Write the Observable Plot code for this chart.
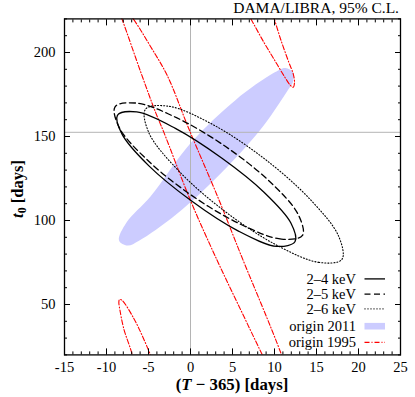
<!DOCTYPE html>
<html>
<head>
<meta charset="utf-8">
<script src="https://cdn.jsdelivr.net/npm/d3@7"></script>
<script src="https://cdn.jsdelivr.net/npm/@observablehq/plot@0.6"></script>
<style>
  body { margin: 0; background: #fff; }
  #chart svg { display: block; }
</style>
</head>
<body>
<div id="chart"></div>
<script>
// ---------- data ----------
const title = "DAMA/LIBRA, 95% C.L.";
const xDomain = [-15, 25];
const yDomain = [20, 220];
const xMajorTicks = [-15, -10, -5, 0, 5, 10, 15, 20, 25];
const xMinorTicks = [-15,-14,-13,-12,-11,-10,-9,-8,-7,-6,-5,-4,-3,-2,-1,0,1,2,3,4,5,6,7,8,9,10,11,12,13,14,15,16,17,18,19,20,21,22,23,24,25];
const yMajorTicks = [50, 100, 150, 200];
const yMinorTicks = [20, 30, 40, 60, 70, 80, 90, 110, 120, 130, 140, 160, 170, 180, 190, 210, 220];
const refT = 0;       // vertical reference line, T - 365 = 0
const refT0 = 152.5;  // horizontal reference line, t0

const legendLabels = ["2\u20134 keV", "2\u20135 keV", "2\u20136 keV", "origin 2011", "origin 1995"];

// contour outlines, [T-365, t0] in days
const contour24 = [
  [12.45, 87.5], [10.3, 84.6], [5.6, 94.0], [0.05, 111.9], [-4.95, 132.5], [-8.15, 151.4],
  [-8.7, 162.6], [-6.4, 164.6], [-1.8, 154.8], [3.75, 137.0], [8.75, 116.8], [11.95, 98.5]
];
const contour25 = [
  [13.33, 91.1], [10.83, 88.9], [6.02, 97.6], [0.18, 114.8], [-5.13, 136.0], [-8.48, 155.3],
  [-8.98, 167.7], [-6.48, 169.9], [-1.67, 161.2], [4.18, 144.0], [9.49, 122.9], [12.83, 103.5]
];
const contour26 = [
  [18.02, 76.8], [15.26, 75.1], [10.12, 85.7], [3.95, 106.0], [-1.57, 130.4], [-4.98, 152.5],
  [-5.36, 166.25], [-2.6, 168.0], [2.55, 157.4], [8.71, 137.1], [14.24, 112.6], [17.64, 90.6]
];
const origin2011 = [
  [12.2, 188.2], [12.2, 182.5], [11.7, 178.4], [8.62, 156.0], [3.71, 128.6], [-1.68, 103.75],
  [-6.13, 88.0], [-7.5, 85.1], [-8.51, 88.1], [-7.62, 98.8], [-4.76, 114.3], [0, 146.0],
  [5.38, 171.8], [9.83, 187.6], [11.3, 190.8]
];
const origin1995Main = [
  [-9.52, 238], [-6.75, 219.6], [-4.76, 203.6], [-2.77, 186.3], [-0.2, 154.6], [3.37, 112.5],
  [5.95, 80.2], [10.83, 20.1], [12.62, -7], [13.1, -31], [11.19, -7], [8.54, 20.1],
  [5.95, 47.1], [3.18, 76.2], [0, 111.9], [-3.18, 152.6], [-4.17, 164.5], [-5.95, 188.7],
  [-8.13, 219.6]
];
const origin1995Top = [
  [6.61, 225], [7.23, 219.6], [8.73, 206.1], [9.92, 196.2], [11.11, 186.3], [11.9, 180.4],
  [12.23, 179.3], [12.38, 182.3], [12.23, 187.3], [11.7, 194.2], [10.71, 208.2], [10.0, 219.6],
  [9.64, 225]
];
const origin1995Bottom = [
  [-6.85, 15], [-6.94, 20], [-7.94, 35.5], [-8.39, 46.4], [-8.53, 51.4], [-8.45, 53.0],
  [-8.13, 52.4], [-6.75, 41.7], [-5.75, 31.5], [-4.76, 20], [-4.4, 16]
];

// ---------- tables for the library ----------
const rows = (pts, piece) => pts.map(([x, y]) => ({x, y, piece}));
const redOpen = [...rows(origin1995Top, "top"), ...rows(origin1995Bottom, "bottom")];

const FONT = "Liberation Serif, DejaVu Serif, serif";
const RED = "#ff0000";
const BLUE = "#ccccff";
const GRAY = "#b4b4b4";
const RED_DASH = "5,2,1,2";
const DASH = "6,3.5";
const DOT = "1,2";

const chart = Plot.plot({
  width: 415,
  height: 397,
  marginLeft: 64,
  marginRight: 15,
  marginTop: 18.4,
  marginBottom: 42.6,
  x: {domain: xDomain, label: null},
  y: {domain: yDomain, label: null},
  style: {fontFamily: FONT, fontSize: "14.5px", background: "white", color: "black", overflow: "visible"},
  marks: [
    Plot.line(rows(origin2011), {x: "x", y: "y", curve: "catmull-rom-closed", fill: BLUE, stroke: "none"}),
    Plot.ruleX([refT], {stroke: GRAY, strokeWidth: 1}),
    Plot.ruleY([refT0], {stroke: GRAY, strokeWidth: 1}),
    Plot.line(rows(origin1995Main), {x: "x", y: "y", curve: "catmull-rom-closed", stroke: RED, strokeWidth: 1.1, strokeDasharray: RED_DASH, clip: true}),
    Plot.line(redOpen, {x: "x", y: "y", z: "piece", curve: "catmull-rom", stroke: RED, strokeWidth: 1.1, strokeDasharray: RED_DASH, clip: true}),
    Plot.line(rows(contour24), {x: "x", y: "y", curve: "catmull-rom-closed", stroke: "black", strokeWidth: 1.3}),
    Plot.line(rows(contour25), {x: "x", y: "y", curve: "catmull-rom-closed", stroke: "black", strokeWidth: 1.3, strokeDasharray: DASH}),
    Plot.line(rows(contour26), {x: "x", y: "y", curve: "catmull-rom-closed", stroke: "black", strokeWidth: 1.1, strokeDasharray: DOT}),
    Plot.frame({stroke: "black", strokeWidth: 1.3}),
    // inward ticks on all four sides
    Plot.axisX({anchor: "bottom", ticks: xMajorTicks, tickSize: -6, fill: null, tickFormat: null}),
    Plot.axisX({anchor: "bottom", ticks: xMinorTicks, tickSize: -3, fill: null, tickFormat: null}),
    Plot.axisX({anchor: "top", ticks: xMajorTicks, tickSize: -6, fill: null, tickFormat: null}),
    Plot.axisX({anchor: "top", ticks: xMinorTicks, tickSize: -3, fill: null, tickFormat: null}),
    Plot.axisY({anchor: "left", ticks: yMajorTicks, tickSize: -6, fill: null, tickFormat: null}),
    Plot.axisY({anchor: "left", ticks: yMinorTicks, tickSize: -3, fill: null, tickFormat: null}),
    Plot.axisY({anchor: "right", ticks: yMajorTicks, tickSize: -6, fill: null, tickFormat: null}),
    Plot.axisY({anchor: "right", ticks: yMinorTicks, tickSize: -3, fill: null, tickFormat: null}),
    // tick labels
    Plot.axisX({anchor: "bottom", ticks: xMajorTicks, tickSize: 0, tickPadding: 7, tickFormat: d => String(d), label: null}),
    Plot.axisY({anchor: "left", ticks: yMajorTicks, tickSize: 0, tickPadding: 9, tickFormat: d => String(d), label: null})
  ]
});
document.getElementById("chart").appendChild(chart);

// ---------- titles and legend ----------
const svg = d3.select(chart);
svg.append("text")
  .attr("x", 399).attr("y", 12.5)
  .attr("text-anchor", "end")
  .attr("font-family", FONT).attr("font-size", 15.5)
  .attr("fill", "black")
  .text(title);

const xl = svg.append("text")
  .attr("x", 232).attr("y", 390)
  .attr("text-anchor", "middle")
  .attr("font-family", FONT).attr("font-size", 16.8).attr("font-weight", "bold")
  .attr("fill", "black");
xl.append("tspan").text("(");
xl.append("tspan").attr("font-style", "italic").text("T");
xl.append("tspan").text(" \u2212 365) [days]");

const yl = svg.append("text")
  .attr("transform", "translate(23,189) rotate(-90)")
  .attr("text-anchor", "middle")
  .attr("font-family", FONT).attr("font-size", 16.5).attr("font-weight", "bold")
  .attr("fill", "black");
yl.append("tspan").attr("font-style", "italic").text("t");
yl.append("tspan").attr("font-size", 12).attr("dy", 3).text("0");
yl.append("tspan").attr("dy", -3).text(" [days]");

const legendBaselines = [283.5, 298.7, 313.5, 330.8, 347];
const lg = svg.append("g").attr("font-family", FONT).attr("font-size", 14.5).attr("fill", "black");
legendLabels.forEach((label, i) => {
  const yb = legendBaselines[i];
  const yc = yb - 4.6;
  lg.append("text").attr("x", 356).attr("y", yb).attr("text-anchor", "end").text(label);
  if (i === 3) {
    lg.append("rect").attr("x", 364.5).attr("y", yc - 3.3).attr("width", 20.5).attr("height", 6.6).attr("fill", BLUE);
  } else {
    const styles = [
      {stroke: "black", w: 1.3, dash: null},
      {stroke: "black", w: 1.3, dash: DASH},
      {stroke: "black", w: 1.1, dash: DOT},
      null,
      {stroke: RED, w: 1.1, dash: RED_DASH}
    ][i];
    lg.append("line").attr("x1", 364.5).attr("x2", 385).attr("y1", yc).attr("y2", yc)
      .attr("stroke", styles.stroke).attr("stroke-width", styles.w)
      .attr("stroke-dasharray", styles.dash);
  }
});
</script>
</body>
</html>
